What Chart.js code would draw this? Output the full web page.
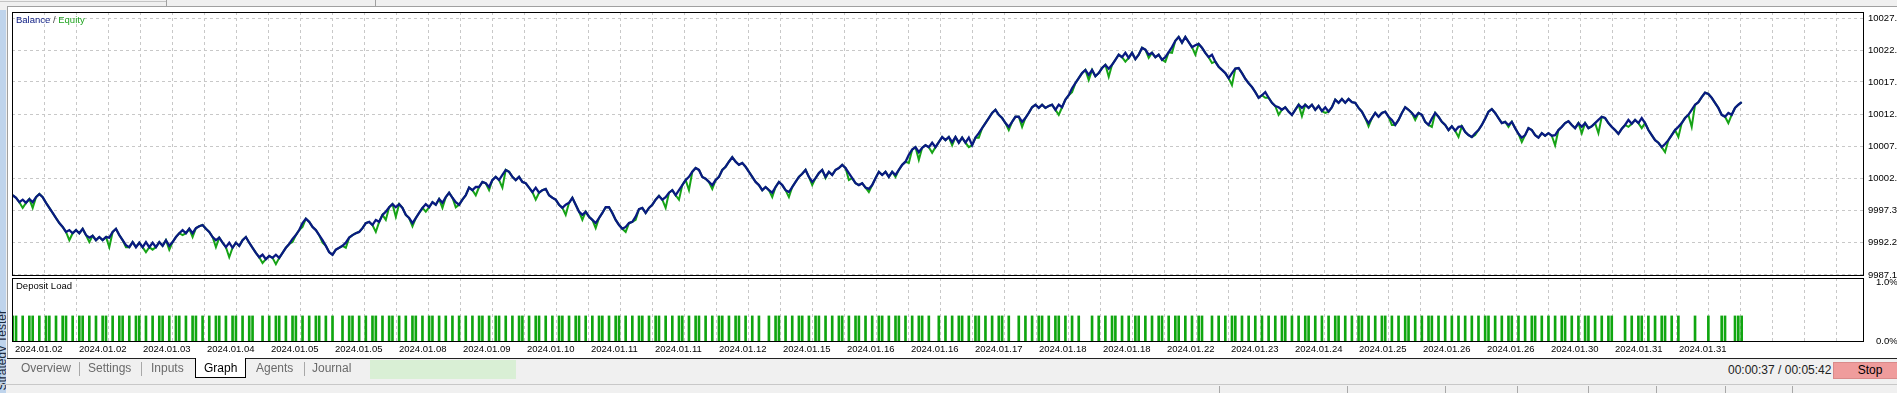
<!DOCTYPE html>
<html>
<head>
<meta charset="utf-8">
<title>Strategy Tester - Graph</title>
<script src="https://cdn.jsdelivr.net/npm/chart.js@4.4.1/dist/chart.umd.min.js"></script>
<style>
  html, body { margin: 0; padding: 0; }
  body { width: 1897px; height: 393px; overflow: hidden; position: relative; background: #f0f0f0;
         font-family: "Liberation Sans", Arial, sans-serif; }
  .abs { position: absolute; }
  #panel { left: 7px; top: 6px; width: 1890px; height: 352px; background: #fff;
           border-left: 1px solid #a0a0a0; border-top: 1px solid #a0a0a0; box-sizing: border-box; }
  #sidebar { left: 0; top: 10px; width: 6px; height: 383px; background: #bfd4ec; overflow: hidden; }
  #sidebar span { position: absolute; left: -5px; top: 300px; writing-mode: vertical-rl; transform: rotate(180deg);
                  font-size: 12px; line-height: 14px; color: #1a2a40; white-space: nowrap; }
  canvas { position: absolute; left: 0; }
  #main { top: 0; }
  #load { top: 276px; }
  .tab { top: 361px; font-size: 12px; line-height: 14px; color: #6a6a6a; }
  .sep { width: 1px; background: #a8a8a8; }
  #graphTab { left: 195px; top: 358px; width: 51px; height: 20px; background: #fff; box-sizing: border-box;
              border: 1px solid #000; border-top: none; }
  #stop { left: 1833px; top: 362px; width: 74px; height: 17px; background: #ef9c9c; box-sizing: border-box;
          border: 1px solid #d98a8a; font-size: 12px; line-height: 15px; text-align: center; color: #000; }
</style>
</head>
<body>
<div class="abs" style="left:0;top:1px;width:166px;height:1px;background:#c4c4c4"></div>
<div class="abs" style="left:166px;top:0;width:1px;height:6px;background:#a0a0a0"></div>
<div class="abs" style="left:375px;top:0;width:1px;height:6px;background:#a0a0a0"></div>
<div id="panel" class="abs"></div>
<div id="sidebar" class="abs"><span>Strategy Tester</span></div>

<canvas id="main" width="1897" height="282"></canvas>
<canvas id="load" width="1897" height="86"></canvas>

<div class="abs" style="left:7px;top:358px;width:1890px;height:1px;background:#222"></div>
<div id="graphTab" class="abs"></div>
<div class="abs tab" style="left:21px">Overview</div>
<div class="abs sep" style="left:79px;top:362px;height:14px"></div>
<div class="abs tab" style="left:88px">Settings</div>
<div class="abs sep" style="left:141px;top:362px;height:14px"></div>
<div class="abs tab" style="left:151px">Inputs</div>
<div class="abs tab" style="left:204px;color:#000">Graph</div>
<div class="abs tab" style="left:256px">Agents</div>
<div class="abs sep" style="left:304px;top:362px;height:14px"></div>
<div class="abs tab" style="left:312px">Journal</div>
<div class="abs" style="left:370px;top:360px;width:146px;height:19px;background:#d9efd5"></div>
<div class="abs" style="left:1728px;top:363px;font-size:12px;line-height:14px;color:#222">00:00:37 / 00:05:42</div>
<div id="stop" class="abs">Stop</div>

<div class="abs" style="left:0;top:384px;width:1897px;height:1px;background:#c8c8c8"></div>
<div class="abs sep" style="left:1219px;top:386px;height:7px"></div>
<div class="abs sep" style="left:1347px;top:386px;height:7px"></div>
<div class="abs sep" style="left:1445px;top:386px;height:7px"></div>
<div class="abs sep" style="left:1517px;top:386px;height:7px"></div>
<div class="abs sep" style="left:1588px;top:386px;height:7px"></div>
<div class="abs sep" style="left:1656px;top:386px;height:7px"></div>
<div class="abs sep" style="left:1725px;top:386px;height:7px"></div>
<div class="abs sep" style="left:1792px;top:386px;height:7px"></div>

<script>
// balance after each deal (one value per deal step)
const balance = [
  9999.7, 9999.3, 9998.6, 9999.0, 9998.5, 9999.1, 9998.6, 9999.4, 9999.9, 9999.4,
  9998.5, 9997.7, 9996.9, 9996.1, 9995.3, 9994.7, 9993.9, 9994.2, 9993.7, 9994.2,
  9993.7, 9994.4, 9993.4, 9993.0, 9993.3, 9992.6, 9993.1, 9992.6, 9993.1, 9993.0,
  9993.9, 9994.4, 9993.4, 9992.6, 9991.8, 9991.5, 9992.3, 9991.5, 9992.2, 9991.5,
  9992.3, 9991.5, 9992.2, 9991.5, 9992.3, 9991.7, 9992.6, 9991.7, 9992.3, 9993.1,
  9993.7, 9994.2, 9993.7, 9994.4, 9993.7, 9994.5, 9994.8, 9995.0, 9994.4, 9993.9,
  9993.1, 9992.6, 9993.0, 9992.2, 9991.5, 9992.2, 9991.4, 9992.2, 9991.7, 9992.6,
  9993.1, 9992.2, 9991.4, 9990.6, 9989.9, 9990.3, 9989.6, 9990.1, 9989.8, 9990.3,
  9989.8, 9990.6, 9991.4, 9992.0, 9992.8, 9993.4, 9994.2, 9995.3, 9996.0, 9995.5,
  9994.7, 9994.2, 9993.4, 9992.6, 9991.7, 9990.7, 9990.3, 9991.1, 9991.4, 9991.7,
  9992.2, 9993.0, 9993.4, 9993.7, 9993.9,
  9994.5, 9995.3, 9995.5, 9995.0, 9995.8, 9995.5, 9996.6, 9997.1, 9997.8, 9998.3,
  9997.8, 9998.3, 9997.7, 9996.6, 9996.1, 9995.3, 9996.1, 9996.9, 9997.7, 9998.3,
  9997.8, 9998.6, 9998.2, 9999.1, 9998.5, 9999.4, 10000.1, 9999.3, 9998.6, 9998.2,
  9999.0, 9999.7, 10000.9, 10000.5, 10001.0, 10001.0, 10001.8, 10001.6, 10001.0, 10002.1,
  10002.6, 10002.1, 10002.9, 10003.7, 10003.4, 10002.6, 10002.1, 10002.6, 10001.8, 10001.6,
  10000.9, 10000.2, 10000.9, 10000.1, 10000.5, 10000.7, 9999.7, 9999.3, 9999.0, 9998.2,
  9997.7, 9998.2, 9998.5, 9999.3, 9998.2, 9997.1, 9996.6, 9997.1, 9996.3, 9995.8,
  9995.3, 9996.1, 9996.9, 9997.8, 9997.8, 9996.9, 9995.8, 9995.0, 9994.4, 9994.7,
  9995.3, 9995.5, 9996.3, 9997.5, 9997.7, 9996.9, 9997.7, 9998.2, 9999.0, 9999.6,
  9999.0, 9999.4, 10000.1, 10000.5, 9999.7, 10000.5, 10001.3, 10002.1, 10002.6, 10003.4,
  10004.0, 10003.7, 10002.6, 10002.3,
  10001.8, 10001.3, 10002.1, 10002.6, 10003.7, 10004.2, 10005.0, 10005.7, 10005.0, 10004.5,
  10004.8, 10004.2, 10003.4, 10002.6, 10001.8, 10001.3, 10000.5, 10001.0, 10000.5, 10000.1,
  10001.0, 10001.8, 10001.3, 10000.5, 10000.2, 10001.0, 10001.8, 10002.6, 10003.1, 10003.7,
  10002.6, 10001.8, 10002.4, 10003.2, 10003.7, 10002.6, 10003.4, 10002.9, 10003.7, 10004.0,
  10004.5, 10004.0, 10003.2, 10002.4, 10001.6, 10001.3, 10001.6, 10000.9, 10000.7, 10001.3,
  10002.4, 10003.4, 10002.9, 10003.4, 10002.6, 10003.4, 10002.9, 10003.7, 10004.5, 10005.0,
  10006.1, 10006.9, 10007.3, 10006.5, 10007.2, 10007.6, 10007.3, 10008.0, 10007.3, 10008.1,
  10008.9, 10008.4, 10008.9, 10008.1, 10008.9, 10008.0, 10008.8, 10008.0, 10008.8, 10007.6,
  10008.8, 10009.5, 10010.3, 10011.1, 10011.9, 10012.7, 10013.2, 10012.4, 10011.9, 10011.1,
  10010.5, 10011.3, 10012.1, 10012.1, 10011.3, 10011.9, 10012.7, 10013.6, 10014.0, 10013.5,
  10014.0, 10013.5, 10013.8,
  10014.0, 10013.2, 10014.0, 10013.6, 10014.8, 10015.5, 10016.6, 10017.4, 10018.2, 10019.0,
  10019.5, 10018.7, 10019.5, 10018.5, 10019.0, 10019.8, 10020.3, 10019.7, 10020.3, 10021.1,
  10021.9, 10021.5, 10022.2, 10021.4, 10022.2, 10021.2, 10021.9, 10023.0, 10022.7, 10021.9,
  10022.2, 10021.5, 10021.9, 10021.1, 10021.5, 10022.3, 10023.1, 10024.1, 10024.7, 10023.8,
  10024.7, 10023.9, 10023.1, 10023.4, 10023.6, 10023.0, 10022.2, 10021.5, 10021.9, 10020.8,
  10020.0, 10019.5, 10019.0, 10018.2, 10019.0, 10019.7, 10019.8, 10019.0, 10018.1, 10017.4,
  10016.8, 10016.0, 10015.1, 10015.5, 10016.0, 10015.1, 10014.3, 10013.8, 10013.6, 10013.2,
  10013.6, 10012.9, 10012.4, 10013.2, 10014.0, 10013.5, 10014.0, 10013.5, 10014.0, 10013.2,
  10013.8, 10013.0, 10013.6, 10012.9, 10013.6, 10014.8, 10014.3, 10014.9, 10014.3, 10014.9,
  10014.4, 10014.3, 10013.5, 10012.9, 10011.9, 10011.1, 10011.9, 10012.7, 10012.1, 10012.7,
  10012.9, 10012.1, 10011.6, 10010.8,
  10011.6, 10012.7, 10013.6, 10013.2, 10012.7, 10012.1, 10012.7, 10012.4, 10011.3, 10010.8,
  10011.8, 10012.7, 10012.1, 10011.3, 10010.8, 10010.0, 10010.6, 10009.9, 10010.5, 10010.6,
  10009.7, 10009.2, 10008.9, 10009.5, 10010.0, 10010.8, 10011.8, 10012.9, 10013.3, 10012.7,
  10011.9, 10011.1, 10011.3, 10010.8, 10011.3, 10010.3, 10009.4, 10008.8, 10009.2, 10010.3,
  10010.0, 10009.2, 10008.8, 10009.5, 10009.1, 10009.5, 10009.1, 10009.2, 10010.0, 10010.5,
  10011.1, 10011.4, 10010.8, 10010.3, 10011.1, 10010.5, 10011.1, 10010.3, 10010.6, 10011.1,
  10011.6, 10012.1, 10011.9, 10011.1, 10010.5, 10010.0, 10009.4, 10010.2, 10010.8, 10011.6,
  10011.0, 10011.6, 10011.1, 10011.9, 10011.1, 10010.0, 10009.2, 10008.4, 10008.0, 10007.3,
  10007.8, 10008.4, 10009.2, 10010.0, 10010.5, 10011.1, 10011.9, 10012.4, 10013.2, 10014.0,
  10014.4, 10015.2, 10015.9, 10015.7, 10015.1, 10014.3, 10013.5, 10012.4, 10012.1, 10012.7,
  10012.4, 10013.5, 10014.0, 10014.4
];

// equity drops below balance: [deal step, equity]
const equityDips = [
  [3, 9997.7], [6, 9997.7], [13, 9996.3], [17, 9992.6], [23, 9992.3], [29, 9991.5], [34, 9991.5],
  [40, 9990.7], [42, 9991.1], [47, 9991.1], [51, 9993.4], [54, 9993.1], [61, 9991.5], [65, 9989.9],
  [71, 9992.6], [75, 9989.0], [79, 9988.8], [84, 9992.3], [87, 9994.7], [93, 9992.2], [100, 9991.4],
  [109, 9993.9], [112, 9995.8], [115, 9996.3], [120, 9994.8], [124, 9997.1], [129, 9997.7], [133, 9997.8],
  [139, 9999.7], [143, 10000.5], [147, 10000.9], [157, 9999.0], [166, 9996.6], [171, 9995.8], [175, 9994.5],
  [184, 9993.9], [187, 9995.8], [196, 9997.7], [200, 9999.0], [203, 10000.5],
  [210, 10000.7], [221, 10003.7], [228, 9999.4], [233, 9999.4], [240, 10001.3], [244, 10002.4], [251, 10002.1],
  [257, 10000.2], [265, 10002.6], [269, 10004.8], [272, 10005.3], [276, 10006.4], [282, 10007.6], [287, 10007.3],
  [290, 10008.8], [299, 10010.0], [303, 10010.5],
  [314, 10012.4], [318, 10016.0], [323, 10017.9], [329, 10018.4], [334, 10020.8], [341, 10021.4], [346, 10020.8],
  [348, 10022.2], [355, 10021.9], [360, 10020.6], [366, 10017.1], [376, 10015.1], [380, 10012.4], [387, 10012.2],
  [394, 10012.7], [407, 10010.6], [414, 10010.8],
  [421, 10011.6], [426, 10010.5], [434, 10008.9], [439, 10009.2], [449, 10010.5], [453, 10008.1], [463, 10007.6],
  [471, 10009.5], [476, 10009.5], [485, 10010.5], [489, 10010.3], [496, 10006.5], [500, 10008.9], [504, 10010.5],
  [515, 10011.1]
];

// deal steps that show a deposit-load bar
const loadDeals = [
  0, 1, 3, 5, 6, 8, 10, 11, 13, 15, 16, 18, 20, 21, 23, 25, 27, 28, 30, 32, 33, 35, 37, 38, 40, 42, 44, 45,
  47, 49, 50, 52, 54, 55, 57, 59, 61, 62, 64, 66, 67, 69, 71, 72,
  75, 77, 79, 80, 82, 84, 85, 87, 89, 91, 92, 94, 96,
  99, 101, 102, 104, 106, 108, 109, 111, 113, 114, 116, 118, 120, 121, 123, 125, 126, 128, 130, 132,
  134, 136, 138, 140, 141, 143, 145, 146, 148, 150, 152, 153, 155, 157, 158, 160, 162, 164, 165, 167, 169,
  170, 172, 174, 176, 177, 179, 181, 182, 184, 186, 188, 189, 191, 193, 194, 196, 198, 200, 201, 203, 205,
  206, 208, 210, 212, 213, 215, 217, 218, 220, 222, 224,
  227, 229, 230, 232, 234, 236, 237, 239, 241, 242, 244, 246, 248, 249, 251, 253, 254, 256, 258, 260, 261,
  263, 265, 266, 268, 270, 272, 273, 275,
  278, 280, 282, 284, 285, 287, 289, 290, 292, 294, 296, 297, 299,
  302, 304, 306, 308, 309, 311, 313, 314, 316, 318, 320,
  324, 326, 328, 330, 331, 333, 335, 337, 338, 340, 342, 344, 345, 347, 349, 350, 352, 354, 356, 357,
  360, 362, 364, 366, 367, 369, 371, 373,
  375, 377, 379, 381, 382, 384, 386, 388, 389,
  391, 393, 395, 397, 398, 400, 402, 404, 405, 407, 409, 411, 412, 414, 416, 418, 419, 421, 423, 425, 426,
  428, 430,
  432, 434, 436,
  438, 440, 442, 443, 445, 447, 449, 450, 452, 454, 456, 457, 459,
  461, 463, 465, 466, 468, 470, 472, 473, 475, 477, 479, 480,
  484, 486, 488, 489, 491, 493, 495, 496, 498,
  500, 505, 509, 513, 514, 517, 518, 519
];
const loadPct = 0.43;

const dateLabels = [
  '2024.01.02', '2024.01.02', '2024.01.03', '2024.01.04', '2024.01.05', '2024.01.05', '2024.01.08',
  '2024.01.09', '2024.01.10', '2024.01.11', '2024.01.11', '2024.01.12', '2024.01.15', '2024.01.16',
  '2024.01.16', '2024.01.17', '2024.01.18', '2024.01.18', '2024.01.22', '2024.01.23', '2024.01.24',
  '2024.01.25', '2024.01.26', '2024.01.26', '2024.01.30', '2024.01.31', '2024.01.31'
];
const balanceTicks = [9987.1, 9992.2, 9997.3, 10002.3, 10007.4, 10012.5, 10017.6, 10022.6, 10027.7];
const loadTicks = [0, 1.0];

const FONT = '"Liberation Sans", Arial, sans-serif';
const FSIZE = 9.5;
const GRID = '#c8c8c8';
const X_MIN = -0.21, X_MAX = 555.42;   // 3.33 px per deal step, plot 12..1863
const GRID_STEP = 9.6056;              // one dashed column = 32 px

Chart.defaults.font.family = FONT;
Chart.defaults.font.size = FSIZE;
Chart.defaults.color = '#000';

const equity = balance.slice();
equityDips.forEach(([i, v]) => { equity[i] = Math.min(v, balance[i]); });

function gridTicks(scale) {
  const t = [];
  for (let v = 0.09; v <= X_MAX; v += GRID_STEP) t.push({ value: v });
  scale.ticks = t;
}

// keep the plot box exactly where the padding puts it
function noPad(s) {
  s.paddingTop = 0; s.paddingBottom = 0; s.paddingLeft = 0; s.paddingRight = 0;
}

const framePlugin = {
  id: 'frame',
  afterDraw(chart, args, opts) {
    const { ctx, chartArea: a } = chart;
    ctx.save();
    ctx.strokeStyle = '#000';
    ctx.lineWidth = 1;
    ctx.strokeRect(a.left + 0.5, a.top + 0.5, a.right - a.left, a.bottom - a.top - (opts.inset || 0));
    ctx.restore();
  }
};

const captionPlugin = {
  id: 'caption',
  afterDraw(chart, args, opts) {
    const ctx = chart.ctx;
    ctx.save();
    ctx.font = FSIZE + 'px ' + FONT;
    ctx.textBaseline = 'middle';
    let x = opts.x;
    opts.parts.forEach(p => {
      ctx.fillStyle = p.color;
      ctx.fillText(p.text, x, opts.y);
      x += ctx.measureText(p.text).width;
    });
    ctx.restore();
  }
};

new Chart(document.getElementById('main'), {
  type: 'line',
  data: {
    datasets: [
      { label: 'Balance', data: balance.map((v, i) => ({ x: i, y: v })),
        borderColor: '#0a1a82', borderWidth: 2.3, pointRadius: 0, tension: 0 },
      { label: 'Equity', data: equity.map((v, i) => ({ x: i, y: v })),
        borderColor: '#16a316', borderWidth: 2, pointRadius: 0, tension: 0 }
    ]
  },
  options: {
    responsive: false,
    animation: false,
    devicePixelRatio: 1,
    layout: { padding: { left: 12, top: 12, right: 0, bottom: 6 } },
    plugins: {
      legend: { display: false },
      tooltip: { enabled: false },
      frame: { inset: 1 },
      caption: { x: 16, y: 20, parts: [
        { text: 'Balance', color: '#0a1a82' }, { text: ' / ', color: '#444' }, { text: 'Equity', color: '#22a522' }
      ] }
    },
    scales: {
      x: {
        type: 'linear', min: X_MIN, max: X_MAX,
        afterBuildTicks: gridTicks,
        afterFit: s => { s.height = 0; noPad(s); },
        ticks: { display: false },
        grid: { color: GRID, drawTicks: false },
        border: { display: false, dash: [3, 3] }
      },
      y: {
        position: 'right', min: 9986.94, max: 10028.65,
        afterBuildTicks: s => { s.ticks = balanceTicks.map(v => ({ value: v })); },
        afterFit: s => { s.width = 34; noPad(s); },
        ticks: { callback: v => v.toFixed(1), padding: 5 },
        grid: { color: GRID, drawTicks: false },
        border: { display: false, dash: [3, 3] }
      }
    }
  },
  plugins: [framePlugin, captionPlugin]
});

new Chart(document.getElementById('load'), {
  type: 'bar',
  data: {
    datasets: [
      { label: 'Deposit Load', data: loadDeals.map(i => ({ x: i, y: loadPct })),
        backgroundColor: '#10a610', borderWidth: 0, barThickness: 2 }
    ]
  },
  options: {
    responsive: false,
    animation: false,
    devicePixelRatio: 1,
    layout: { padding: { left: 12, top: 2, right: 0, bottom: 3 } },
    plugins: {
      legend: { display: false },
      tooltip: { enabled: false },
      frame: { inset: 0 },
      caption: { x: 16, y: 10, parts: [{ text: 'Deposit Load', color: '#000' }] }
    },
    scales: {
      x: {
        type: 'linear', min: X_MIN, max: X_MAX, offset: false,
        afterBuildTicks: gridTicks,
        afterFit: s => { s.height = 18; noPad(s); },
        ticks: {
          autoSkip: false, maxRotation: 0, align: 'start', labelOffset: 2, padding: 3,
          callback: (v, i) => (i % 2 === 0 ? (dateLabels[i / 2] || '') : '')
        },
        grid: { color: GRID, drawTicks: false, offset: false },
        border: { display: false, dash: [3, 3] }
      },
      y: {
        position: 'right', min: 0, max: 1.08,
        afterBuildTicks: s => { s.ticks = loadTicks.map(v => ({ value: v })); },
        afterFit: s => { s.width = 34; noPad(s); },
        ticks: { callback: v => v.toFixed(1) + '%', padding: 5 },
        grid: { display: false },
        border: { display: false }
      }
    }
  },
  plugins: [framePlugin, captionPlugin]
});
</script>
</body>
</html>
